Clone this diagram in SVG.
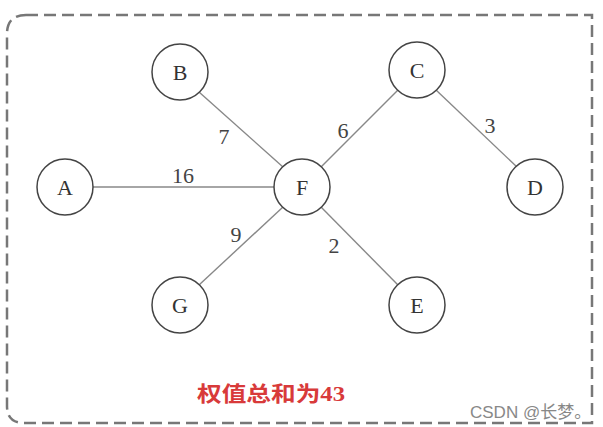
<svg xmlns="http://www.w3.org/2000/svg" width="603" height="427" viewBox="0 0 603 427">
<style>
.node ellipse{fill:#fff;stroke:#444;stroke-width:1.5}
.node text{font-family:"Liberation Serif","DejaVu Serif",serif;font-size:22px;fill:#333;text-anchor:middle}
.edges line{stroke:#888;stroke-width:1.4}
.w{font-family:"Liberation Serif","DejaVu Serif",serif;font-size:22px;fill:#444;text-anchor:middle}
</style>
<rect width="603" height="427" fill="#fff"/>
<path d="M26 15 H592 V423 H24 Q7 423 7 406 V34 Q7 15 26 15" fill="none" stroke="#777" stroke-width="2.5" stroke-dasharray="12 6"/>
<g class="edges">
<line x1="93" y1="187" x2="274" y2="187"/>
<line x1="199" y1="92" x2="283" y2="167"/>
<line x1="398" y1="90" x2="321" y2="167"/>
<line x1="436" y1="90" x2="517" y2="167"/>
<line x1="283" y1="207" x2="199" y2="285"/>
<line x1="321" y1="207" x2="398" y2="285"/>
</g>
<text class="w" x="224" y="144">7</text>
<text class="w" x="343" y="138">6</text>
<text class="w" x="490" y="133">3</text>
<text class="w" x="183" y="183">16</text>
<text class="w" x="236" y="242">9</text>
<text class="w" x="334" y="253">2</text>
<g class="node" id="A"><ellipse cx="65" cy="187" rx="28" ry="28"/><text x="65" y="195">A</text></g>
<g class="node" id="B"><ellipse cx="180" cy="72" rx="28" ry="28"/><text x="180" y="80">B</text></g>
<g class="node" id="C"><ellipse cx="417" cy="70" rx="28" ry="28"/><text x="417" y="78">C</text></g>
<g class="node" id="D"><ellipse cx="535" cy="187" rx="28" ry="28"/><text x="535" y="195">D</text></g>
<g class="node" id="F"><ellipse cx="302" cy="187" rx="28" ry="28"/><text x="302" y="195">F</text></g>
<g class="node" id="G"><ellipse cx="180" cy="305" rx="28" ry="28"/><text x="180" y="313">G</text></g>
<g class="node" id="E"><ellipse cx="417" cy="305" rx="28" ry="28"/><text x="417" y="313">E</text></g>
<text x="197" y="401" font-family="'Liberation Serif','Noto Sans CJK SC',serif" font-size="21" font-weight="bold" fill="#d83a3a" textLength="148" lengthAdjust="spacingAndGlyphs">权值总和为43</text>
<text x="470" y="418" font-family="'Liberation Sans','Noto Sans CJK SC',sans-serif" font-size="17" fill="#888">CSDN @长梦。</text>
</svg>
